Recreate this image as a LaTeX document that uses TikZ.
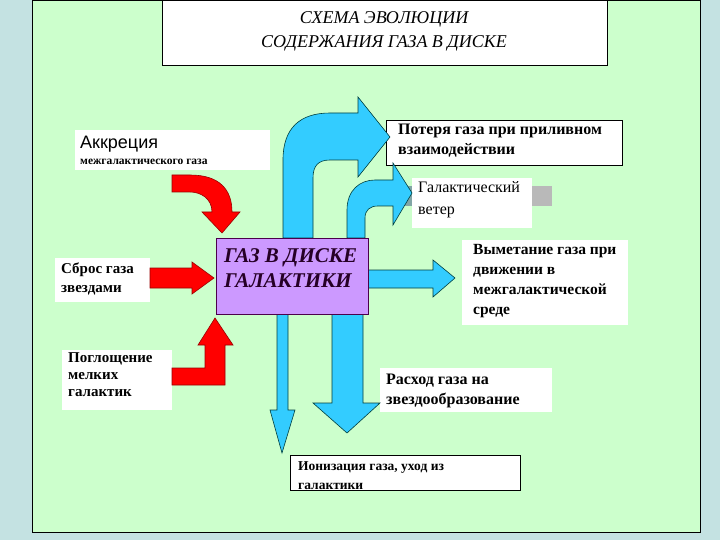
\documentclass[tikz,border=0pt]{standalone}
\usepackage{fontspec}
\setmainfont{Liberation Serif}
\setsansfont{Liberation Sans}
\begin{document}
\begin{tikzpicture}[x=1pt,y=-1pt,
  lbl/.style={anchor=north west,align=left,inner sep=0pt,font=\fontsize{16.5}{19}\selectfont\bfseries},
  red/.style={fill=red,draw=red!60!black,line width=0.6pt},
  cyan/.style={fill=cyanc,draw=teal!50!black,line width=0.6pt}]
\definecolor{outer}{HTML}{C4E2E2}
\definecolor{bg}{HTML}{CCFFCC}
\definecolor{cyanc}{HTML}{33CCFF}
\definecolor{purp}{HTML}{CC99FF}
\useasboundingbox (0,0) rectangle (720,540);
\fill[outer] (0,0) rectangle (720,540);
\fill[bg,draw=black] (32,0) rectangle (700,532);
% title
\draw[fill=white] (162,0) rectangle (607,65);
\node[align=center,font=\fontsize{18}{24}\selectfont\itshape] (title) at (384,31) {СХЕМА ЭВОЛЮЦИИ\\СОДЕРЖАНИЯ ГАЗА В ДИСКЕ};
% white boxes
\fill[white] (75,130) rectangle (270,170);
\node[anchor=west,inner sep=0pt,font=\sffamily\fontsize{18}{20}\selectfont] (acc) at (80,144) {Аккреция};
\node[anchor=west,inner sep=0pt,font=\fontsize{11.5}{12}\selectfont\bfseries] (acc2) at (80,162) {межгалактического газа};
\fill[white] (55,258) rectangle (150,302);
\node[lbl,font=\fontsize{15}{19}\selectfont\bfseries] (sbros) at (61,263) {Сброс газа\\звездами};
\fill[white] (62,350) rectangle (172,410);
\node[lbl,font=\fontsize{15}{17}\selectfont\bfseries] (pogl) at (68,352) {Поглощение\\мелких\\галактик};
\draw[fill=white] (386,120) rectangle (622,165);
\node[lbl,font=\fontsize{16}{20}\selectfont\bfseries] (loss) at (398,124) {Потеря газа при приливном\\взаимодействии};
\fill[teal!40!gray!70] (380,186) rectangle (413,206);
\fill[gray!55] (532,186) rectangle (552,206);
\fill[white] (412,178) rectangle (532,228);
\node[lbl,font=\fontsize{16}{22}\selectfont] (wind) at (418,181) {Галактический\\ветер};
\fill[white] (462,240) rectangle (628,325);
\node[lbl,font=\fontsize{15.5}{20}\selectfont\bfseries] (sweep) at (473,244) {Выметание газа при\\движении в\\межгалактической\\среде};
\fill[white] (380,368) rectangle (552,412);
\node[lbl,font=\fontsize{16}{20}\selectfont\bfseries] (sf) at (386,374) {Расход газа на\\звездообразование};
\begin{scope}
\draw[fill=white] (290,455) rectangle (520,490);
\clip (290,455) rectangle (520,490);
\node[lbl,font=\fontsize{13.5}{19}\selectfont\bfseries] (ion) at (298,461) {Ионизация газа, уход из\\галактики};
\end{scope}
% red arrows
\draw[red] (172,175) -- (190,175) .. controls (220,175) and (232,190) .. (232,212) -- (240,212) -- (222,233) -- (202,212) -- (212,212) .. controls (212,198) and (200,192) .. (190,192) -- (172,192) -- cycle;
\draw[red] (150,268) -- (192,268) -- (192,262) -- (214,278) -- (192,294) -- (192,288) -- (150,288) -- cycle;
\draw[red] (172,368) -- (205,368) -- (205,345) -- (198,345) -- (215,318) -- (233,345) -- (225,345) -- (225,385) -- (172,385) -- cycle;
% cyan arrows
\draw[cyan] (283,238) -- (283,160) .. controls (283,128) and (300,113) .. (330,113) -- (358,113) -- (358,97) -- (390,137) -- (358,177) -- (358,160) -- (330,160) .. controls (318,160) and (313,166) .. (313,178) -- (313,238) -- cycle;
\draw[cyan] (347,238) -- (347,210) .. controls (347,190) and (360,180) .. (375,180) -- (393,180) -- (393,163) -- (412,193) -- (393,225) -- (393,206) -- (378,206) .. controls (370,206) and (365,210) .. (365,218) -- (365,238) -- cycle;
\draw[cyan] (368,270) -- (433,270) -- (433,260) -- (455,278) -- (433,297) -- (433,288) -- (368,288) -- cycle;
\draw[cyan] (277,314) -- (288,314) -- (288,410) -- (295,410) -- (282,453) -- (270,410) -- (277,410) -- cycle;
\draw[cyan] (332,314) -- (363,314) -- (363,403) -- (380,403) -- (347,433) -- (313,403) -- (332,403) -- cycle;
% centre
\draw[fill=purp,draw=violet!60!black] (216,238) rectangle (368,314);
\node[lbl,font=\fontsize{21}{25}\selectfont\bfseries\itshape,text=violet!30!black] (gas) at (224,248) {ГАЗ В ДИСКЕ\\ГАЛАКТИКИ};
\end{tikzpicture}
\end{document}
